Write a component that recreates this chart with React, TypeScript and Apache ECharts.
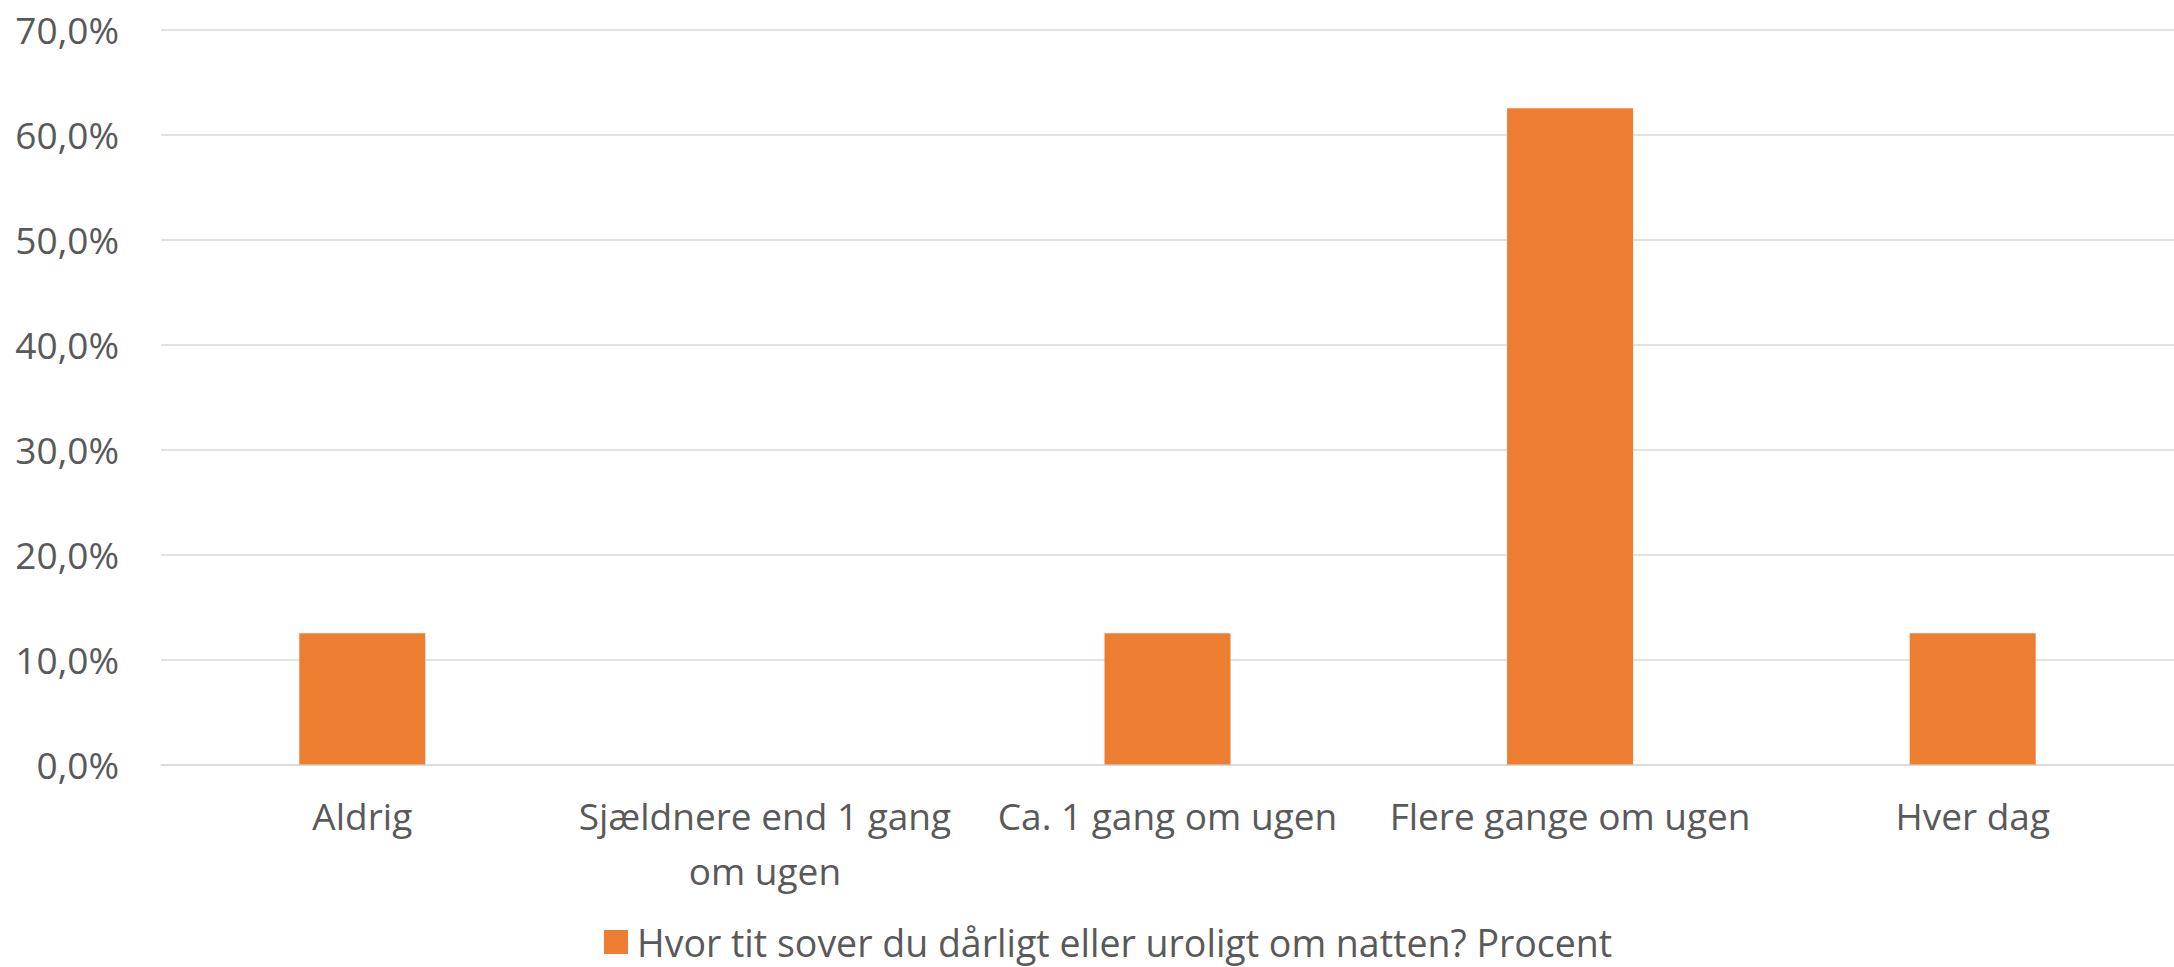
import React, { useEffect, useRef } from "react";
import * as echarts from "echarts";

// Survey answers: how often the respondents sleep badly or restlessly at night
const categories: string[] = [
  "Aldrig",
  "Sjældnere end 1 gang\nom ugen",
  "Ca. 1 gang om ugen",
  "Flere gange om ugen",
  "Hver dag",
];
const percentValues: number[] = [12.5, 0, 12.5, 62.5, 12.5];
const seriesName = "Hvor tit sover du dårligt eller uroligt om natten? Procent";

const yMin = 0;
const yMax = 70;
const yStep = 10;

const textGray = "#595959";
const gridGray = "#d9d9d9";
const barOrange = "#ED7D31";
const fontFamily = "'Open Sans', 'Noto Sans', sans-serif";

const formatPercent = (v: number) => v.toFixed(1).replace(".", ",") + "%";

export default function App() {
  const ref = useRef<HTMLDivElement>(null);

  useEffect(() => {
    if (!ref.current) return;
    const chart = echarts.init(ref.current, undefined, { renderer: "svg" });
    chart.setOption({
      animation: false,
      backgroundColor: "#ffffff",
      textStyle: { fontFamily },
      grid: {
        left: 161,
        top: 29.5,
        width: 2017,
        height: 735,
        containLabel: false,
      },
      legend: {
        show: true,
        left: 604,
        top: 923,
        padding: 0,
        icon: "rect",
        itemWidth: 24,
        itemHeight: 24,
        textStyle: {
          color: textGray,
          fontSize: 37.5,
          fontFamily,
          lineHeight: 34,
          padding: [0, 0, 0, 4],
        },
        data: [seriesName],
      },
      xAxis: {
        type: "category",
        data: categories,
        axisLine: { show: true, lineStyle: { color: gridGray, width: 1.5 } },
        axisTick: { show: false },
        axisLabel: {
          color: textGray,
          fontSize: 37,
          fontFamily,
          lineHeight: 55,
          margin: 23,
          interval: 0,
        },
      },
      yAxis: {
        type: "value",
        min: yMin,
        max: yMax,
        interval: yStep,
        axisLine: { show: false },
        axisTick: { show: false },
        splitLine: { show: true, lineStyle: { color: gridGray, width: 1.5 } },
        axisLabel: {
          color: textGray,
          fontSize: 37,
          fontFamily,
          margin: 42,
          formatter: formatPercent,
        },
      },
      series: [
        {
          name: seriesName,
          type: "bar",
          data: percentValues,
          barWidth: 126,
          itemStyle: { color: barOrange },
        },
      ],
    });
    return () => chart.dispose();
  }, []);

  return (
    <div
      ref={ref}
      style={{ position: "fixed", left: 0, top: 0, width: 2174, height: 967 }}
    />
  );
}
